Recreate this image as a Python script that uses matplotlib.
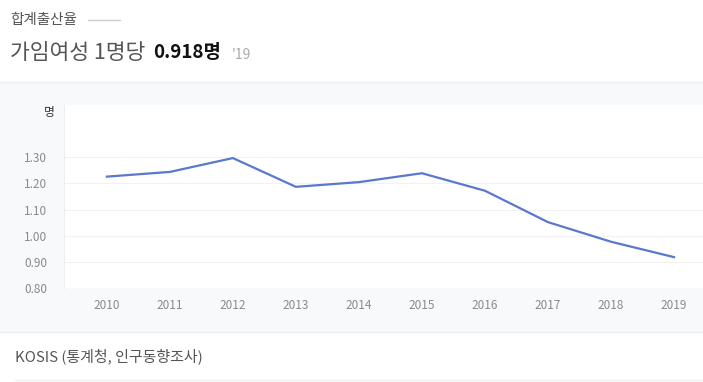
import matplotlib
matplotlib.use('Agg')
import matplotlib.pyplot as plt
from matplotlib.patches import Rectangle
from matplotlib.lines import Line2D

plt.rcParams['font.family'] = ['Noto Sans CJK KR', 'DejaVu Sans']

## data ##
years = [2010, 2011, 2012, 2013, 2014, 2015, 2016, 2017, 2018, 2019]
rate = [1.226, 1.244, 1.297, 1.187, 1.205, 1.239, 1.172, 1.052, 0.977, 0.918]
yticks = [0.80, 0.90, 1.00, 1.10, 1.20, 1.30]

W, H = 703, 382
fig = plt.figure(figsize=(W / 100, H / 100), dpi=100)
fig.patch.set_facecolor('white')

def fx(px):
    return px / W

def fy(py):
    return 1 - py / H

# gray panel behind the chart
fig.add_artist(Rectangle((0, fy(332)), 1, fy(82) - fy(332), transform=fig.transFigure,
                         facecolor='#f8f9fb', edgecolor='none', zorder=0))
fig.add_artist(Line2D([0, 1], [fy(82), fy(82)], transform=fig.transFigure, color='#eceef2', lw=1))
fig.add_artist(Line2D([0, 1], [fy(332), fy(332)], transform=fig.transFigure, color='#eceef2', lw=1))
fig.add_artist(Line2D([fx(15), fx(703)], [fy(380), fy(380)], transform=fig.transFigure, color='#f0f0f0', lw=1))

# header
fig.text(fx(10), fy(20), '합계출산율', fontsize=10.5, color='#555555', va='center', ha='left')
fig.add_artist(Line2D([fx(88), fx(120)], [fy(20), fy(20)], transform=fig.transFigure, color='#cccccc', lw=1))
fig.text(fx(10), fy(53), '가임여성 1명당', fontsize=15.5, color='#555555', fontweight='light',
         va='center', ha='left')
fig.text(fx(153), fy(53), '0.918명', fontsize=13.5, color='#111111', fontweight='bold', va='center', ha='left')
fig.text(fx(232), fy(55), "'19", fontsize=10, color='#aaaaaa', va='center', ha='left')

# footer
fig.text(fx(15), fy(356), 'KOSIS (통계청, 인구동향조사)', fontsize=10.8, color='#555555',
         fontweight='light', va='center', ha='left')

# chart
ax = fig.add_axes([fx(64), fy(288), 1 - fx(64), fy(105) - fy(288)])
ax.set_facecolor('white')
ax.plot(years, rate, color='#5a78cc', lw=1.6, solid_joinstyle='miter')
ax.set_xlim(2009.32, 2019.46)
ax.set_ylim(0.80, 1.50)
ax.set_yticks(yticks)
ax.set_yticklabels(['%.2f' % v for v in yticks])
ax.set_xticks(years)
ax.tick_params(axis='both', length=0, labelsize=8.5, labelcolor='#8a8a8a')
ax.tick_params(axis='y', pad=12)
ax.tick_params(axis='x', pad=8)
ax.grid(axis='y', color='#f2f2f2', lw=0.8)
ax.set_axisbelow(True)
for s in ['top', 'right', 'bottom']:
    ax.spines[s].set_visible(False)
ax.spines['left'].set_color('#eeeeee')
ax.text(-0.023, 0.96, '명', transform=ax.transAxes, fontsize=8.5,
        color='#333333', ha='center', va='center')

fig.savefig('out.png', dpi=100, facecolor=fig.get_facecolor())
